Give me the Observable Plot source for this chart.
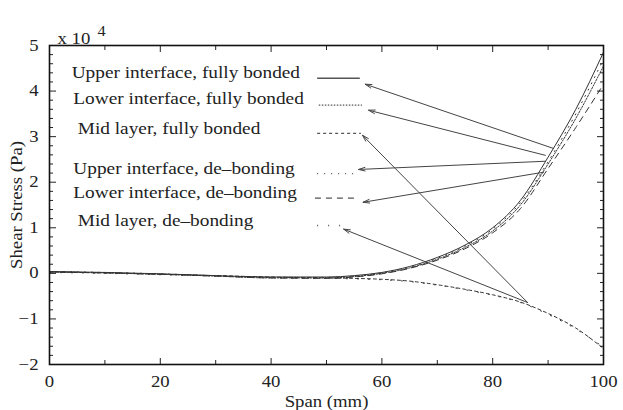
<!DOCTYPE html>
<html>
<head>
<meta charset="utf-8">
<script src="https://cdn.jsdelivr.net/npm/d3@7"></script>
<script src="https://cdn.jsdelivr.net/npm/@observablehq/plot@0.6"></script>
<style>
  html, body { margin: 0; padding: 0; background: #fff; }
  #chart { position: relative; width: 623px; height: 410px; }
</style>
</head>
<body>
<div id="chart"></div>
<script>
// ---- data ----
const span = [0, 10, 20, 30, 40, 50, 55, 60, 65, 70, 75, 80, 85, 90, 95, 100];
const upperFullyBonded = [0.04, 0.02, -0.01, -0.05, -0.08, -0.08, -0.05, 0.02, 0.15, 0.35, 0.62, 1.0, 1.6, 2.55, 3.6, 4.85];
const lowerFullyBonded = [0.03, 0.01, -0.02, -0.06, -0.10, -0.10, -0.07, 0.0, 0.12, 0.31, 0.57, 0.93, 1.5, 2.4, 3.4, 4.55];
const midFullyBonded   = [0.03, 0.01, -0.02, -0.05, -0.08, -0.10, -0.11, -0.13, -0.17, -0.25, -0.35, -0.47, -0.63, -0.88, -1.2, -1.65];
const upperDebonding   = [0.04, 0.02, -0.01, -0.05, -0.09, -0.09, -0.06, 0.01, 0.13, 0.33, 0.60, 0.97, 1.55, 2.45, 3.5, 4.7];
const lowerDebonding   = [0.03, 0.01, -0.02, -0.06, -0.10, -0.11, -0.08, -0.01, 0.11, 0.29, 0.54, 0.89, 1.42, 2.3, 3.2, 4.15];
const midDebonding     = [0.02, 0.0, -0.03, -0.06, -0.09, -0.11, -0.12, -0.14, -0.18, -0.26, -0.36, -0.48, -0.64, -0.9, -1.22, -1.62];

const seriesNames = [
  "Upper interface, fully bonded",
  "Lower interface, fully bonded",
  "Mid layer, fully bonded",
  "Upper interface, de\u2013bonding",
  "Lower interface, de\u2013bonding",
  "Mid layer, de\u2013bonding"
];
const seriesValues = [upperFullyBonded, lowerFullyBonded, midFullyBonded, upperDebonding, lowerDebonding, midDebonding];
const seriesDash = ["none", "1.5,1.5", "3,3", "1,6", "6,5", "1,10"];

// legend (annotation) positions in data units
const legendTextX = [4.0, 4.3, 5.1, 4.3, 4.3, 5.1];
const legendTextY = [4.41, 3.84, 3.18, 2.30, 1.76, 1.16];
const legendLineX1 = [48.4, 48.7, 48.4, 48.4, 48.0, 48.4];
const legendLineX2 = [56.1, 56.5, 56.3, 55.2, 55.8, 54.0];
const legendLineY = [4.28, 3.69, 3.07, 2.19, 1.65, 1.05];

// arrows (from curve to legend sample), data units
const arrowX1 = [91.0, 89.5, 86.3, 89.5, 89.2, 86.3];
const arrowY1 = [2.74, 2.59, -0.64, 2.46, 2.22, -0.64];
const arrowX2 = [57.0, 57.6, 56.5, 55.8, 56.6, 53.1];
const arrowY2 = [4.15, 3.58, 3.03, 2.28, 1.56, 0.97];

// ticks
const xMajor = [0, 20, 40, 60, 80, 100];
const xMinor = [10, 30, 50, 70, 90];
const yMajor = [-2, -1, 0, 1, 2, 3, 4, 5];
const yMinor = d3.range(-20, 51, 2).map(v => v / 10).filter(v => !yMajor.includes(v));

// ---- build ----
const idx = d3.range(seriesNames.length);
const curveMarks = idx.map(s =>
  Plot.line(span, {
    x: (d) => d,
    y: (d, i) => seriesValues[s][i],
    stroke: "#333",
    strokeWidth: 1,
    strokeDasharray: seriesDash[s],
    curve: "monotone-x"
  })
);
const legendLineMarks = idx.map(s =>
  Plot.ruleY([legendLineY[s]], {
    x1: legendLineX1[s], x2: legendLineX2[s],
    stroke: "#555", strokeWidth: s === 0 ? 1.6 : 1.3, strokeDasharray: seriesDash[s]
  })
);

const plot = Plot.plot({
  width: 623,
  height: 410,
  marginLeft: 49,
  marginRight: 20,
  marginTop: 45,
  marginBottom: 46,
  style: { fontFamily: "'Liberation Serif', 'Times New Roman', serif", fontSize: "16px", background: "#fff", color: "#222" },
  x: { domain: [0, 100] },
  y: { domain: [-2, 5] },
  marks: [
    ...curveMarks,
    ...legendLineMarks,
    Plot.arrow(idx, {
      x1: i => arrowX1[i], y1: i => arrowY1[i],
      x2: i => arrowX2[i], y2: i => arrowY2[i],
      stroke: "#444", strokeWidth: 1, headLength: 10, headAngle: 32
    }),
    Plot.text(idx, {
      x: i => legendTextX[i], y: i => legendTextY[i], text: i => seriesNames[i],
      textAnchor: "start", fontSize: 16.5, fill: "#222"
    }),
    // tick labels and axis titles
    Plot.axisX(xMajor, { anchor: "bottom", tickSize: 0, tickPadding: 11, fontSize: 16,
      label: "Span (mm)", labelAnchor: "center", labelArrow: "none", labelOffset: 42 }),
    Plot.axisY(yMajor, { anchor: "left", tickSize: 0, tickPadding: 11, fontSize: 16,
      tickFormat: d => d < 0 ? "\u2212" + Math.abs(d) : String(d),
      label: "Shear Stress (Pa)", labelAnchor: "center", labelArrow: "none", labelOffset: 39 }),
    // inward ticks
    Plot.axisX(xMajor, { anchor: "bottom", tickSize: 6, dy: -6, fill: "none", label: null }),
    Plot.axisX(xMinor, { anchor: "bottom", tickSize: 4, dy: -4, fill: "none", label: null }),
    Plot.axisX(xMajor, { anchor: "top", tickSize: 6, dy: 6, fill: "none", label: null }),
    Plot.axisX(xMinor, { anchor: "top", tickSize: 4, dy: 4, fill: "none", label: null }),
    Plot.axisY(yMajor, { anchor: "left", tickSize: 7, dx: 7, fill: "none", label: null }),
    Plot.axisY(yMinor, { anchor: "left", tickSize: 4, dx: 4, fill: "none", label: null }),
    Plot.axisY(yMajor, { anchor: "right", tickSize: 7, dx: -7, fill: "none", label: null }),
    Plot.axisY(yMinor, { anchor: "right", tickSize: 4, dx: -4, fill: "none", label: null }),
    Plot.frame({ stroke: "#111", strokeWidth: 1.6 }),
    // multiplier
    Plot.text(["x 10"], { frameAnchor: "top-left", text: d => d, textAnchor: "start", dx: 8, dy: -13, fontSize: 16, fill: "#222" }),
    Plot.text(["4"], { frameAnchor: "top-left", text: d => d, textAnchor: "start", dx: 48, dy: -19, fontSize: 14, fill: "#222" })
  ]
});
document.getElementById("chart").appendChild(plot);

// the reference typeface is set wide: stretch each text horizontally
const stretch = 1.17;
d3.select(plot).selectAll("text").each(function () {
  const tspans = this.querySelectorAll("tspan");
  const targets = tspans.length ? Array.from(tspans) : [this];
  targets.forEach(t => {
    const w = t.getComputedTextLength();
    if (w > 0) {
      t.setAttribute("textLength", (w * stretch).toFixed(2));
      t.setAttribute("lengthAdjust", "spacingAndGlyphs");
    }
  });
});
</script>
</body>
</html>
